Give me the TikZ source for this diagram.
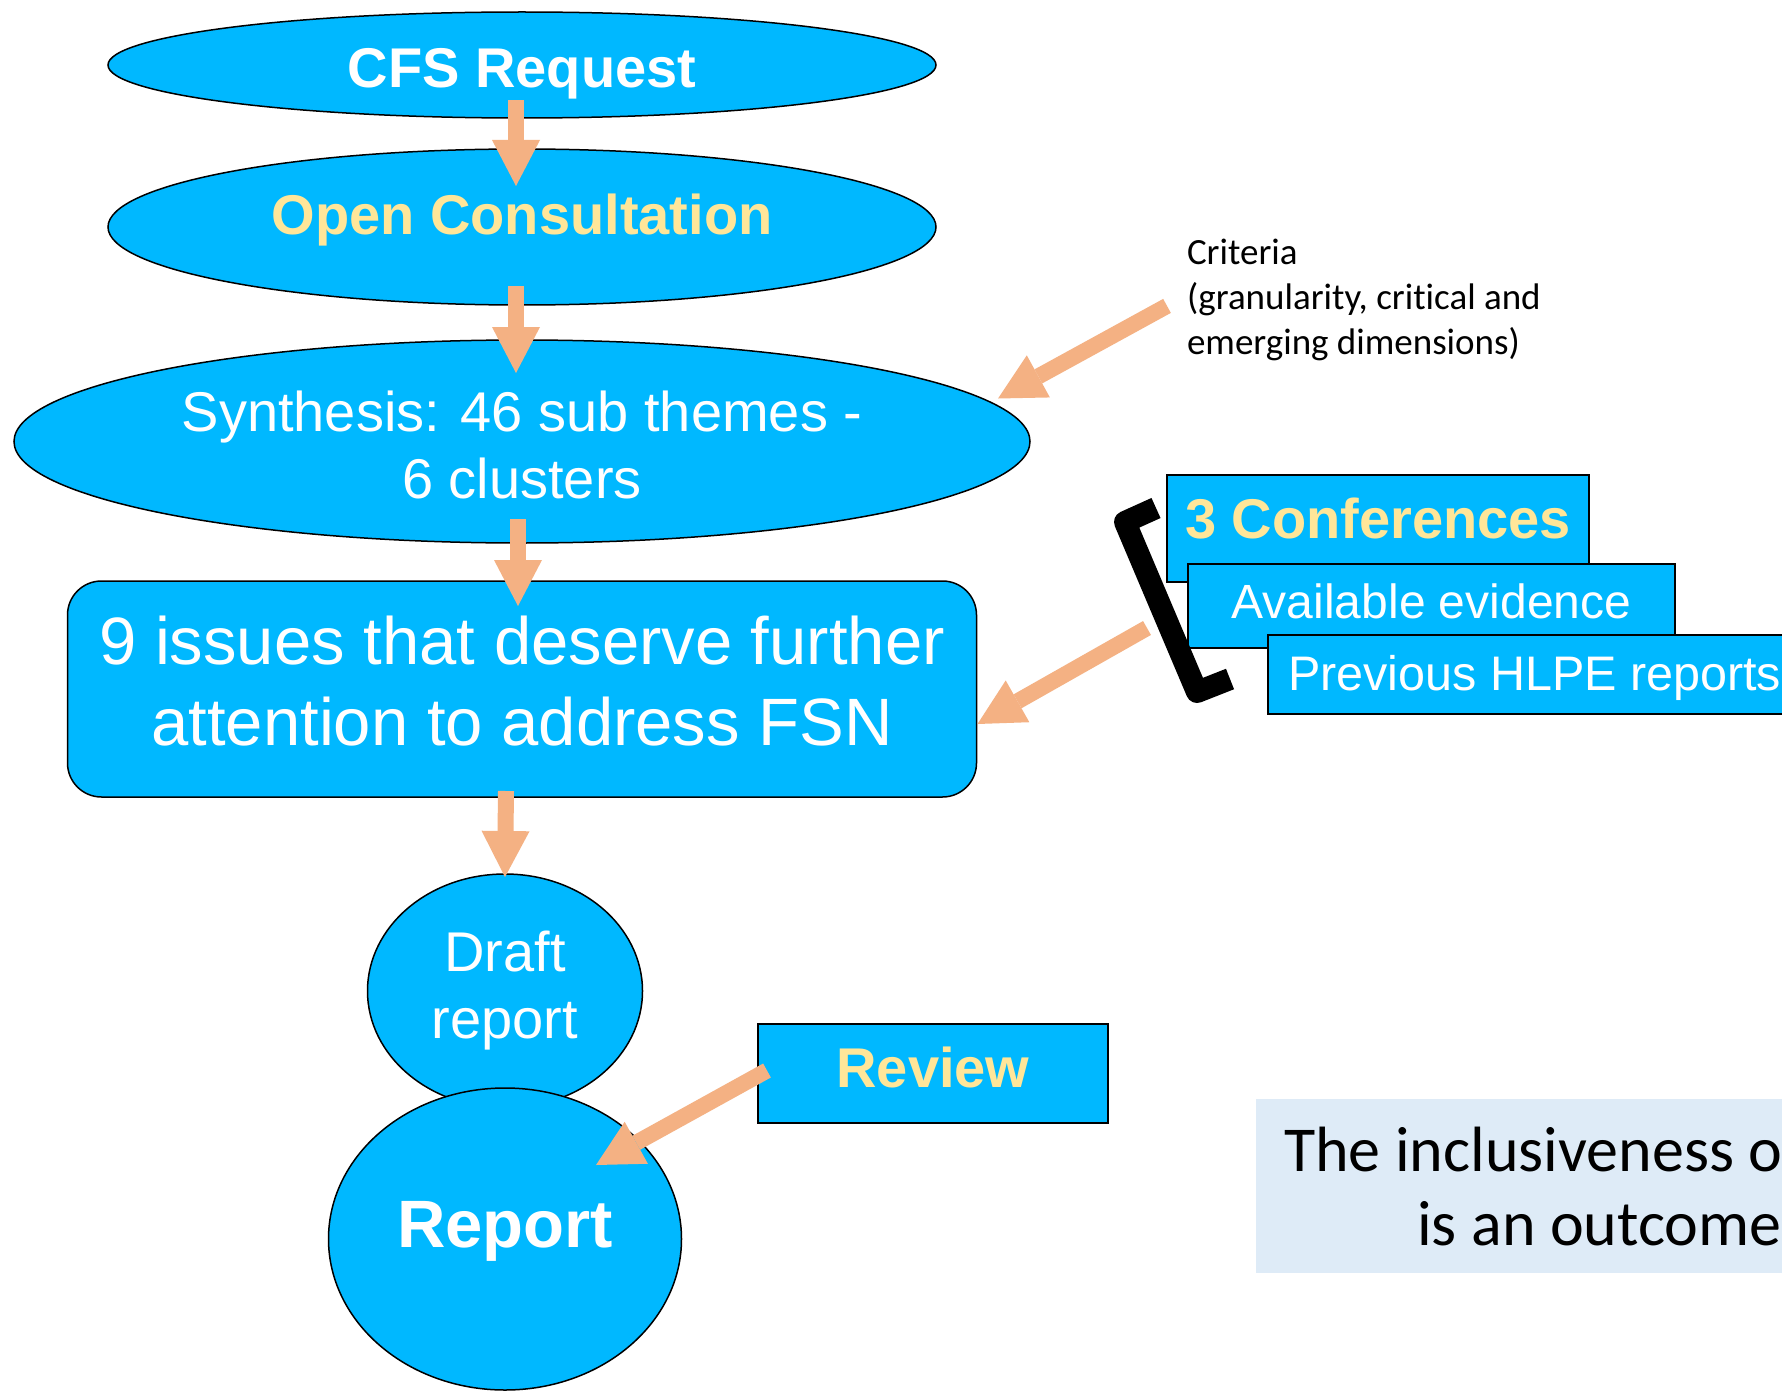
\documentclass[tikz,border=0pt]{standalone}
\usepackage{fontspec}
\setmainfont{Liberation Sans}
\newfontfamily\calfont[Ligatures=NoCommon]{Carlito}
\usepackage{xcolor}
\usepackage{tikz}
\usetikzlibrary{shapes.geometric,positioning,arrows.meta}

\definecolor{nodeblue}{RGB}{0,184,255}
\definecolor{hiyellow}{RGB}{255,230,153}
\definecolor{flowtan}{RGB}{244,177,131}
\definecolor{notebg}{RGB}{222,235,247}

\tikzset{
  bubble/.style={ellipse, draw=black, line width=1.5pt, fill=nodeblue, text=white,
    inner sep=0pt, outer sep=0pt, align=center},
  panel/.style={rectangle, draw=black, line width=1.5pt, fill=nodeblue, text=white,
    inner sep=0pt, outer sep=0pt, align=center},
  big/.style={font=\fontsize{56}{67}\selectfont},
  bigbold/.style={font=\bfseries\fontsize{56}{67}\selectfont},
  hilite/.style={bigbold, text=hiyellow},
  note/.style={inner sep=0pt, outer sep=0pt, font=\calfont\fontsize{37}{45}\selectfont, align=left},
  flow/.style={draw=flowtan, line width=16pt,
    -{Triangle[width=48pt,length=46pt,line width=0pt]}},
}

\begin{document}
\begin{tikzpicture}[x=1pt, y=-1pt]
  \useasboundingbox (0,0) rectangle (1782,1391);
  \clip (0,0) rectangle (1782,1391);
  \fill[white] (0,0) rectangle (1782,1391);

  % main chain
  \node[bubble, bigbold, minimum width=828pt, minimum height=106pt,
    text height=46pt, text depth=0pt] (cfs) at (522,65) {CFS Request} ; %
  \node[bubble, hilite, minimum width=828pt, minimum height=156pt,
    text height=41pt, text depth=27pt, below=31pt of cfs] (open) {Open Consultation} ; %
  \node[bubble, big, minimum width=1016pt, minimum height=203pt,
    below=35pt of open] (synth) {\rule{0pt}{48pt}Synthesis: 46 sub themes -\\6 clusters} ; %
  \node[panel, font=\fontsize{67}{81}\selectfont, rounded corners=34pt,
    minimum width=909pt, minimum height=216pt,
    below=38pt of synth] (issues) {9 issues that deserve further\\attention to address FSN\rule[-16pt]{0pt}{16pt}} ; %
  \node[bubble, big, minimum width=275pt, minimum height=234pt,
    below=77pt of issues, xshift=-17pt] (draft) {Draft\\report} ; %
  \node[bubble, font=\bfseries\fontsize{67}{80}\selectfont, minimum width=353pt,
    minimum height=302pt, text height=48pt, text depth=32pt,
    below=-20pt of draft] (report) {Report} ; %

  % inputs
  \node[panel, hilite, minimum width=350pt, minimum height=99pt,
    text height=42pt, text depth=15pt] (review) at (933,1073.5) {Review} ; %
  \node[note, anchor=north west] (crit) at (1187,239)
    {Criteria\\(granularity, critical and\\emerging dimensions)} ; %
  \node[panel, hilite, minimum width=422pt, minimum height=107pt,
    text height=42pt, text depth=23pt] (conf) at (1378,528.5) {3 Conferences} ; %
  \node[panel, font=\fontsize{48}{58}\selectfont, minimum width=487pt,
    minimum height=84pt, text height=36pt, text depth=12pt] (evid) at (1431.5,606) {Available evidence} ; %
  \node[panel, font=\fontsize{48.5}{58}\selectfont, anchor=west, inner xsep=20pt,
    minimum height=79pt, text height=42pt] (prev) at (1268,674.5) {Previous HLPE reports} ; %

  \node[fill=notebg, anchor=north west, minimum width=560pt,
    minimum height=174pt, inner sep=0pt] (incl) at (1256,1099) {} ; %
  \node[font=\calfont\fontsize{64}{74}\selectfont, anchor=base west,
    inner sep=0pt] (incl1) at (1284,1171) {The inclusiveness o} ; %
  \node[font=\calfont\fontsize{64}{74}\selectfont, anchor=base west,
    inner sep=0pt] (incl2) at (1417,1245) {is an outcome} ; %

  \draw[flow] ([shift={(-6pt,18pt)}]cfs.south) -- ([shift={(-6pt,-37pt)}]open.north);
  \draw[flow] ([shift={(-6pt,19pt)}]open.south) -- ([shift={(-6pt,-33pt)}]synth.north);
  \draw[flow] ([shift={(-4pt,24pt)}]synth.south) -- ([shift={(-4pt,-25pt)}]issues.north);
  \draw[flow] ([shift={(-16pt,6pt)}]issues.south) -- ([yshift=-3pt]draft.north);
  \draw[flow] ([shift={(-20pt,-6pt)}]crit.west) -- ([shift={(476pt,43pt)}]synth.center);
  \draw[flow] ([shift={(-41pt,-22pt)}]evid.west) -- ([shift={(1pt,-35pt)}]issues.east);
  \draw[flow] ([shift={(9pt,3pt)}]review.west) -- ([shift={(91pt,74pt)}]report.center);

  % bracket
  \draw[line width=22pt, line join=round] (1156,508) -- (1125,522) -- (1197,692) -- (1230,679);
\end{tikzpicture}
\end{document}
